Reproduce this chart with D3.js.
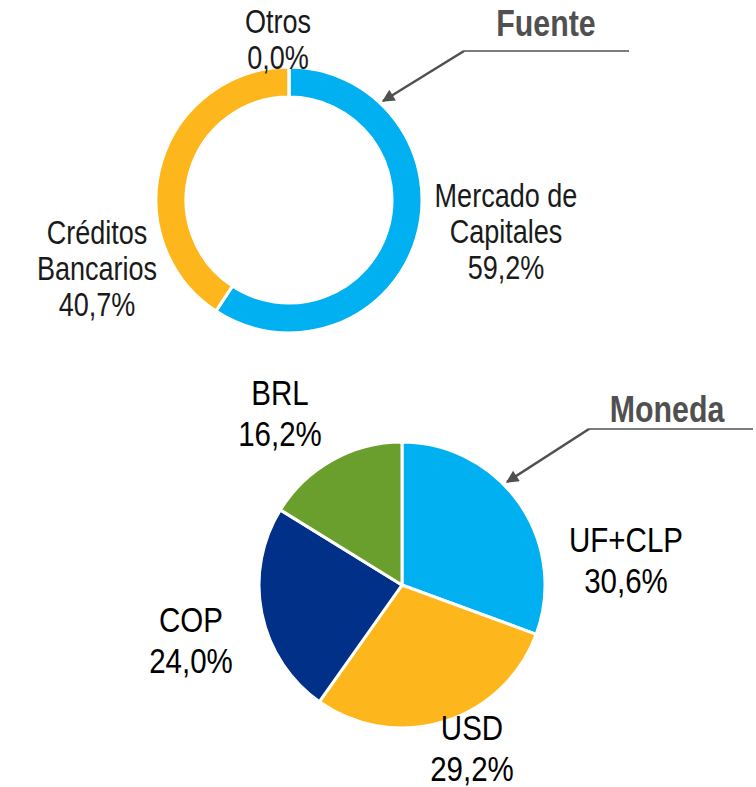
<!DOCTYPE html>
<html>
<head>
<meta charset="utf-8">
<script src="https://cdn.jsdelivr.net/npm/d3@7"></script>
<style>
  html, body { margin: 0; padding: 0; background: #fff; }
  svg text { font-family: "Liberation Sans Narrow", "Arial Narrow", "Liberation Sans", Arial, sans-serif; }
</style>
</head>
<body>
<div id="chart"></div>
<script>
// Composición de la deuda: por fuente y por moneda

var fuenteCats = ['Mercado de Capitales', 'Créditos Bancarios', 'Otros'];
var fuenteVals = [59.2, 40.7, 0.0];
var fuenteLines = [['Mercado de', 'Capitales'], ['Créditos', 'Bancarios'], ['Otros']];

var monedaCats = ['UF+CLP', 'USD', 'COP', 'BRL'];
var monedaVals = [30.6, 29.2, 24.0, 16.2];

var titles = ['Fuente', 'Moneda'];

var width = 756, height = 787;
var fmt = function (v) { return v.toFixed(1).replace('.', ',') + '%'; };
// no narrow font installed: squeeze the regular one horizontally
var narrow = 0.82;

var colorFuente = d3.scaleOrdinal().domain(fuenteCats).range(['#00B0F0', '#FDB71C', '#A6A6A6']);
var colorMoneda = d3.scaleOrdinal().domain(monedaCats).range(['#00B0F0', '#FDB71C', '#003087', '#6A9F2D']);

var svg = d3.select('#chart').append('svg')
    .attr('width', width)
    .attr('height', height);

svg.append('defs').append('marker')
    .attr('id', 'arrow')
    .attr('viewBox', '0 0 10 10')
    .attr('refX', 9).attr('refY', 5)
    .attr('markerWidth', 5.5).attr('markerHeight', 5)
    .attr('orient', 'auto')
    .append('path')
    .attr('d', 'M0,0 L10,5 L0,10 z')
    .attr('fill', '#505050');

var pie = d3.pie().sort(null).value(function (d) { return d; });

function label(g, x, y, lines, size, spacing, color) {
    var t = g.append('text')
        .attr('transform', 'translate(' + x + ',' + y + ') scale(' + narrow + ',1)')
        .attr('text-anchor', 'middle')
        .attr('font-size', size + 'px')
        .attr('fill', color);
    lines.forEach(function (s, k) {
        t.append('tspan').attr('x', 0).attr('y', k * spacing).text(s);
    });
}

// ---- donut (fuente)
var donut = svg.append('g').attr('transform', 'translate(289,200)');
var donutArc = d3.arc().innerRadius(103).outerRadius(133);

donut.selectAll('path')
    .data(pie(fuenteVals))
    .join('path')
    .attr('d', donutArc)
    .attr('fill', function (d, i) { return colorFuente(fuenteCats[i]); })
    .attr('stroke', '#fff')
    .attr('stroke-width', 3);

// label anchors (relative to the donut centre), placed like the original
var fuenteAnchors = [[217, 7], [-192, 44], [-11, -167]];

fuenteLines.forEach(function (lines, i) {
    label(donut, fuenteAnchors[i][0], fuenteAnchors[i][1],
        lines.concat([fmt(fuenteVals[i])]), 33, 36, '#1a1a1a');
});

// ---- pie (moneda)
var pieG = svg.append('g').attr('transform', 'translate(402,585)');
var pieArc = d3.arc().innerRadius(0).outerRadius(143);

pieG.selectAll('path')
    .data(pie(monedaVals))
    .join('path')
    .attr('d', pieArc)
    .attr('fill', function (d, i) { return colorMoneda(monedaCats[i]); })
    .attr('stroke', '#fff')
    .attr('stroke-width', 3);

var monedaAnchors = [[224, -33], [70, 155], [-211, 47], [-122, -180]];

monedaCats.forEach(function (c, i) {
    label(pieG, monedaAnchors[i][0], monedaAnchors[i][1],
        [c, fmt(monedaVals[i])], 36, 41, '#000');
});

// ---- callout titles with underline + arrow
var callouts = [
    { text: titles[0], tx: 546, ty: 36, lx1: 464, lx2: 629, ly: 51, ax: 383, ay: 101 },
    { text: titles[1], tx: 667, ty: 422, lx1: 589, lx2: 753, ly: 429, ax: 507, ay: 482 }
];

callouts.forEach(function (c) {
    svg.append('text')
        .attr('transform', 'translate(' + c.tx + ',' + c.ty + ') scale(' + narrow + ',1)')
        .attr('text-anchor', 'middle')
        .attr('font-size', '37px')
        .attr('font-weight', 'bold')
        .attr('fill', '#505050')
        .text(c.text);
    svg.append('line')
        .attr('x1', c.lx1).attr('x2', c.lx2)
        .attr('y1', c.ly).attr('y2', c.ly)
        .attr('stroke', '#505050')
        .attr('stroke-width', 1.5);
    svg.append('line')
        .attr('x1', c.lx1).attr('y1', c.ly)
        .attr('x2', c.ax).attr('y2', c.ay)
        .attr('stroke', '#505050')
        .attr('stroke-width', 2.5)
        .attr('marker-end', 'url(#arrow)');
});
</script>
</body>
</html>
